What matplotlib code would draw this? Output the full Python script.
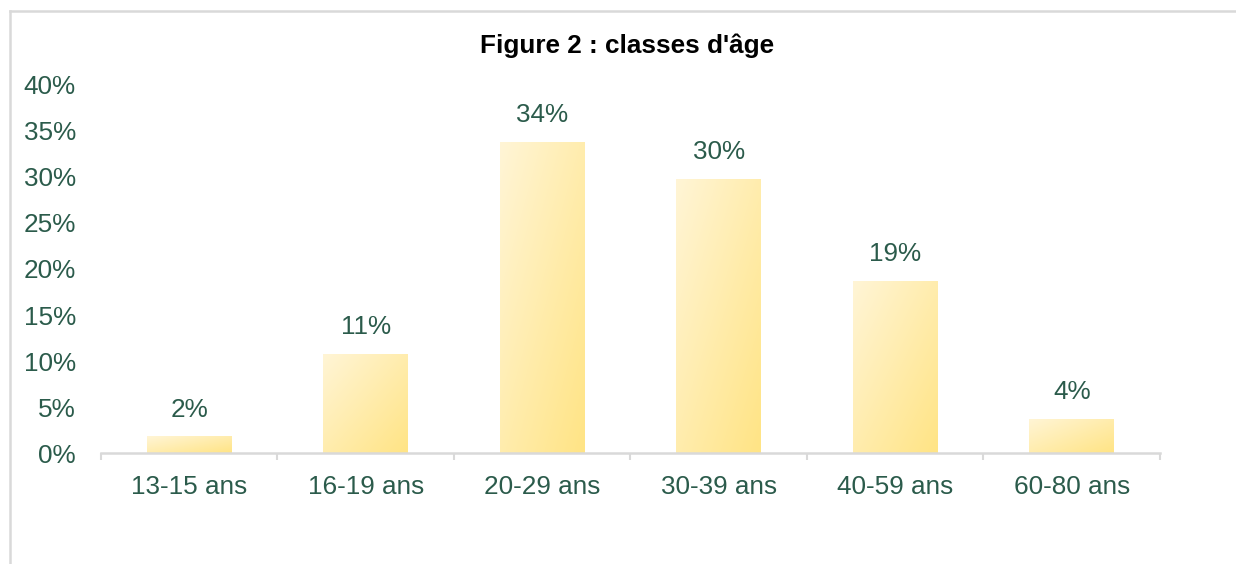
import numpy as np
import matplotlib
matplotlib.use("Agg")
import matplotlib.pyplot as plt
from matplotlib.colors import LinearSegmentedColormap
from matplotlib.lines import Line2D

categories = ["13-15 ans", "16-19 ans", "20-29 ans", "30-39 ans", "40-59 ans", "60-80 ans"]
values = [1.8, 10.8, 33.8, 29.8, 18.7, 3.7]
yticks = [0, 5, 10, 15, 20, 25, 30, 35, 40]
title = "Figure 2 : classes d'âge"

plt.rcParams['font.family'] = ['Liberation Sans', 'DejaVu Sans']
txt_color = "#2B5B4B"
grid_gray = "#D9D9D9"
fs = 18.8

fig = plt.figure(figsize=(12.36, 5.64), dpi=100)
ax = fig.add_axes([0.0817, 0.1968, 0.8568, 0.6525])

x = np.arange(len(categories))
bars = ax.bar(x, values, width=0.48, color="none", edgecolor="none", zorder=2)

cmap = LinearSegmentedColormap.from_list("g", ["#FFF5D6", "#FFE485"])
u = np.linspace(0, 1, 64)
U, V = np.meshgrid(u, u)  # V: 0 at top row
grad = (U + V) / 2.0
for b in bars:
    x0, y0 = b.get_x(), b.get_y()
    w, h = b.get_width(), b.get_height()
    im = ax.imshow(grad, cmap=cmap, extent=[x0, x0 + w, y0, y0 + h],
                   origin="upper", aspect="auto", zorder=2, interpolation="bilinear")
    im.set_clip_path(b)

for xi, v in zip(x, values):
    ax.text(xi, v + 1.6, f"{round(v):.0f}%", ha="center", va="bottom",
            fontsize=fs, color=txt_color)

ax.set_xlim(-0.5, len(categories) - 0.5)
ax.set_ylim(0, 40)
ax.set_yticks(yticks)
ax.set_yticklabels([f"{t}%" for t in yticks])
ax.set_xticks(x)
ax.set_xticklabels(categories)
ax.set_xticks(np.arange(len(categories) + 1) - 0.5, minor=True)
ax.tick_params(axis="x", which="major", length=0, pad=16, labelsize=fs, labelcolor=txt_color)
ax.tick_params(axis="x", which="minor", length=5, width=1.5, color=grid_gray)
ax.tick_params(axis="y", length=0, pad=18, labelsize=fs, labelcolor=txt_color)

for s in ["top", "right", "left"]:
    ax.spines[s].set_visible(False)
ax.spines["bottom"].set_color(grid_gray)
ax.spines["bottom"].set_linewidth(1.8)

fig.text(0.507, 1 - 46 / 564, title, ha="center", va="center", fontsize=fs,
         fontweight="bold", color="black")

# outer chart frame (partially cropped)
fig.add_artist(Line2D([10 / 1236, 1.0], [1 - 11 / 564, 1 - 11 / 564],
                      color=grid_gray, lw=1.8, transform=fig.transFigure))
fig.add_artist(Line2D([10 / 1236, 10 / 1236], [0.0, 1 - 11 / 564],
                      color=grid_gray, lw=1.8, transform=fig.transFigure))

fig.savefig("out.png", dpi=100, facecolor="white")
